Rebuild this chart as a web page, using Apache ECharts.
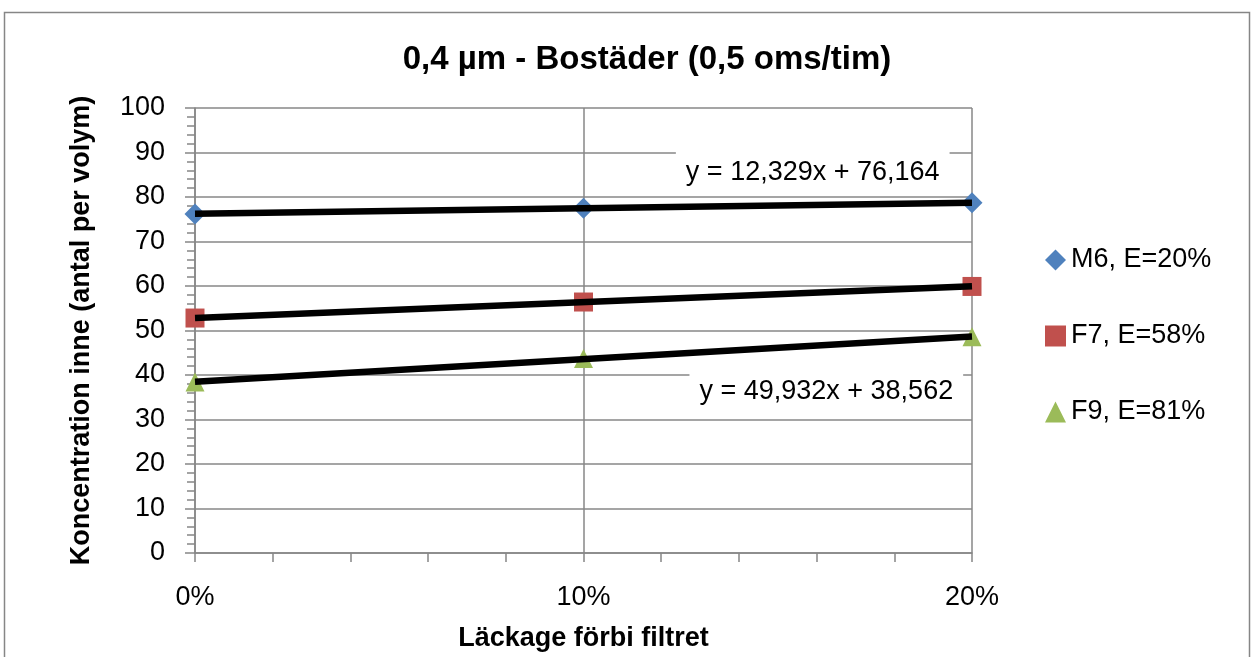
<!DOCTYPE html>
<html>
<head>
<meta charset="utf-8">
<script src="https://cdn.jsdelivr.net/npm/echarts@6/dist/echarts.min.js"></script>
<style>html,body{margin:0;padding:0;background:#fff;}#c{width:1251px;height:657px;}</style>
</head>
<body>
<div id="c"></div>
<script>
const xValues = [0, 0.1, 0.2];
const seriesNames = ['M6, E=20%', 'F7, E=58%', 'F9, E=81%'];
const m6 = [76.2, 77.5, 78.7];
const f7 = [52.8, 56.4, 59.9];
const f9 = [38.4, 43.7, 48.6];
const yTicks = [0, 10, 20, 30, 40, 50, 60, 70, 80, 90, 100];
const xTicks = [0, 0.1, 0.2];
const eqLabels = ['y = 12,329x + 76,164', 'y = 49,932x + 38,562'];

const FONT = '"Liberation Sans", Arial, sans-serif';
const colors = ['#4F81BD', '#C0504D', '#9BBB59'];
const symbols = ['diamond', 'rect', 'triangle'];

function fit(ys) {
  const n = xValues.length;
  const mx = xValues.reduce((a, b) => a + b, 0) / n;
  const my = ys.reduce((a, b) => a + b, 0) / n;
  let sxy = 0, sxx = 0;
  for (let i = 0; i < n; i++) { sxy += (xValues[i] - mx) * (ys[i] - my); sxx += (xValues[i] - mx) ** 2; }
  const b = sxy / sxx, a = my - b * mx;
  return [[xValues[0], a + b * xValues[0]], [xValues[n - 1], a + b * xValues[n - 1]]];
}

const all = [m6, f7, f9];
const series = [];
all.forEach((ys, i) => {
  series.push({
    name: seriesNames[i], type: 'scatter', symbol: symbols[i],
    symbolSize: i === 0 ? 21 : 19,
    itemStyle: { color: colors[i], opacity: 1 },
    data: ys.map((v, j) => [xValues[j], v]), z: 2
  });
});
all.forEach((ys, i) => {
  const s = {
    type: 'line', data: fit(ys), showSymbol: false, symbol: 'none',
    lineStyle: { color: '#000', width: 6.5 }, z: 3, silent: true
  };
  if (i === 0 || i === 2) {
    const lab = i === 0 ? eqLabels[0] : eqLabels[1];
    const coord = i === 0 ? [0.159, 85.4] : [0.1625, 36.2];
    s.markPoint = {
      symbol: 'circle', symbolSize: 0, silent: true,
      data: [{ coord: coord, value: lab }],
      label: {
        show: true, position: 'inside', formatter: lab,
        color: '#000', fontSize: 27, fontFamily: FONT,
        backgroundColor: '#fff', padding: [8, 10]
      }
    };
  }
  series.push(s);
});

const chart = echarts.init(document.getElementById('c'));
chart.setOption({
  animation: false,
  backgroundColor: '#fff',
  graphic: [{
    type: 'rect', shape: { x: 4.5, y: 12.5, width: 1245, height: 660 },
    style: { fill: 'none', stroke: '#868686', lineWidth: 1.5 }, z: -1
  }],
  title: {
    text: '0,4 µm - Bostäder (0,5 oms/tim)', left: 642, textAlign: 'center', top: 38,
    textStyle: { fontFamily: FONT, fontSize: 33, fontWeight: 'bold', color: '#000' }
  },
  legend: {
    orient: 'vertical', left: 1040, top: 240, itemGap: 46, itemWidth: 21, itemHeight: 21,
    data: seriesNames.map((n, i) => ({ name: n, icon: symbols[i] })),
    textStyle: { fontFamily: FONT, fontSize: 27, lineHeight: 30, color: '#000', padding: [0, 0, 0, 0] }
  },
  grid: { left: 195, right: 279, top: 108, bottom: 104 },
  xAxis: {
    type: 'value', min: 0, max: 0.2, interval: 0.1,
    name: 'Läckage förbi filtret', nameLocation: 'middle', nameGap: 72,
    nameTextStyle: { fontFamily: FONT, fontSize: 27, fontWeight: 'bold', color: '#000' },
    axisLine: { lineStyle: { color: '#878787', width: 1.5 } },
    axisTick: { show: true, length: 9, lineStyle: { color: '#878787', width: 1.5 } },
    minorTick: { show: true, splitNumber: 5, length: 9, lineStyle: { color: '#878787', width: 1.5 } },
    splitLine: { show: true, lineStyle: { color: '#878787', width: 1.5 } },
    axisLabel: {
      margin: 31, fontFamily: FONT, fontSize: 27, color: '#000',
      formatter: v => Math.round(v * 100) + '%'
    }
  },
  yAxis: {
    type: 'value', min: 0, max: 100, interval: 10,
    name: 'Koncentration inne (antal per volym)', nameLocation: 'middle', nameGap: 100,
    nameTextStyle: { fontFamily: FONT, fontSize: 27, fontWeight: 'bold', color: '#000' },
    axisLine: { show: true, lineStyle: { color: '#878787', width: 1.5 } },
    axisTick: { show: true, length: 10, lineStyle: { color: '#878787', width: 1.5 } },
    minorTick: { show: true, splitNumber: 5, length: 8, lineStyle: { color: '#878787', width: 1.5 } },
    splitLine: { show: true, lineStyle: { color: '#878787', width: 1.5 } },
    axisLabel: { margin: 30, fontFamily: FONT, fontSize: 27, color: '#000',
      formatter: v => yTicks.includes(v) ? String(v) : '' }
  },
  series: series
});
</script>
</body>
</html>
